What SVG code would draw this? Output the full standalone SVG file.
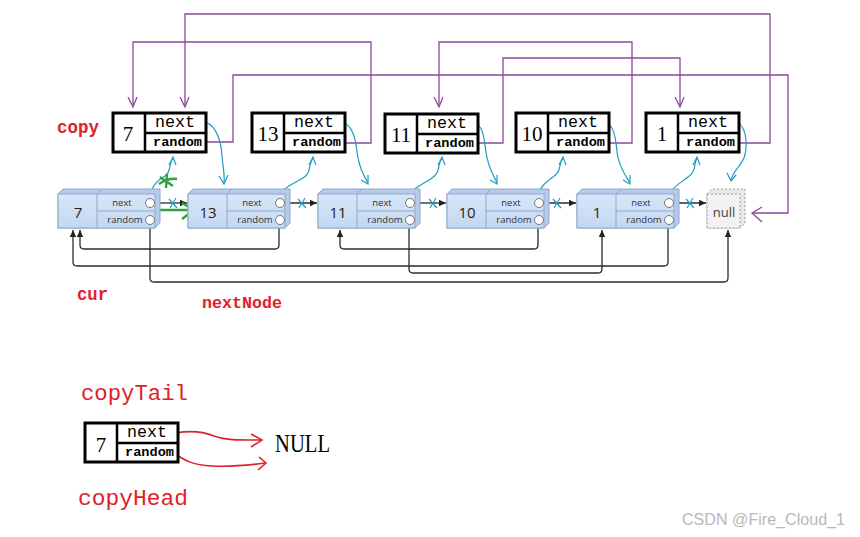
<svg xmlns="http://www.w3.org/2000/svg" xmlns:xlink="http://www.w3.org/1999/xlink" width="860" height="537" viewBox="0 0 860 537">
<style>
.cbox{fill:#fff;stroke:#000;stroke-width:3}
.cdiv{stroke:#000;stroke-width:2.5}
.cval{font-family:"Liberation Serif",serif;font-size:21px;fill:#000;text-anchor:middle}
.cnext{font-family:"Liberation Mono",monospace;font-size:16px;fill:#000}
.crand{font-family:"Liberation Mono",monospace;font-size:12.5px;font-weight:bold;fill:#000}
.purple{fill:none;stroke:#8a4a98;stroke-width:1.3}
.cyan{fill:none;stroke:#1f9cc6;stroke-width:1.2}
.blk{fill:none;stroke:#2b2b2b;stroke-width:1.3}
.red{fill:none;stroke:#e0202a;stroke-width:1.6}
.grn{fill:none;stroke:#2ca33c;stroke-width:2.4}
.lbl{font-family:"Liberation Mono",monospace;font-weight:bold;fill:#e0202a}
.lbl2{font-family:"Liberation Mono",monospace;fill:#e0202a}
.ntxt{font-family:"Open Sans","DejaVu Sans",sans-serif;font-size:9.5px;fill:#333;text-anchor:middle}
.nval{font-family:"Open Sans","DejaVu Sans",sans-serif;font-size:15px;fill:#222;text-anchor:middle}
</style>
<defs>
<linearGradient id="bg" x1="0" y1="0" x2="0" y2="1">
<stop offset="0" stop-color="#d8e6f8"/><stop offset="1" stop-color="#c3d7f1"/>
</linearGradient>
<marker id="ah" markerWidth="8" markerHeight="8" refX="7" refY="4" orient="auto" markerUnits="userSpaceOnUse">
<path d="M0,0.8 L7,4 L0,7.2 Z" fill="#222"/>
</marker>
<g id="body">
<path d="M0,194 L5,189 L102,189 L102,223 L97,228 L0,228 Z" fill="#b6cbea" stroke="#8ea8cc" stroke-width="1"/>
<rect x="0" y="194" width="97" height="34" fill="url(#bg)" stroke="#8ea8cc" stroke-width="1"/>
<path d="M39,194 V228 M39,194 L44,189 M39,211 H97" stroke="#8ea8cc" stroke-width="1" fill="none"/>
<circle cx="92" cy="203" r="4.5" fill="#fff" stroke="#777" stroke-width="1"/>
<circle cx="92" cy="220" r="4.5" fill="#fff" stroke="#777" stroke-width="1"/>
<text class="ntxt" x="64" y="206">next</text>
<text class="ntxt" x="67" y="223">random</text>
</g>
<g id="cbody">
<rect class="cbox" x="0" y="0" width="93" height="39"/>
<path class="cdiv" d="M32,0 V39 M32,20 H93"/>
<text class="cnext" x="42" y="14" textLength="40" lengthAdjust="spacingAndGlyphs">next</text>
<text class="crand" x="40" y="33" textLength="49" lengthAdjust="spacingAndGlyphs">random</text>
</g>
</defs>
<rect width="860" height="537" fill="#fff"/>

<g id="connectors">
<path class="purple" d="M738,143 H770 V14 H185 V106"/>
<path class="purple" d="M180,97 L185,107 L189,97"/>
<path class="purple" d="M345,143 H371 V42 H133 V106"/>
<path class="purple" d="M128,97 L133,107 L137,97"/>
<path class="purple" d="M206,142 H233 V75 H788 V213 H752"/>
<path class="purple" d="M762,207 L752,213 L762,222"/>
<path class="purple" d="M609,143 H632 V42 H439 V106"/>
<path class="purple" d="M434,97 L439,107 L443,97"/>
<path class="purple" d="M478,143 H503 V58 H680 V106"/>
<path class="purple" d="M675,97 L680,107 L684,97"/>

<path class="blk" d="M155,203 H187" marker-end="url(#ah)"/>
<path class="blk" d="M284,203 H317" marker-end="url(#ah)"/>
<path class="blk" d="M414,203 H446" marker-end="url(#ah)"/>
<path class="blk" d="M543,203 H576" marker-end="url(#ah)"/>
<path class="blk" d="M673,203 H706" marker-end="url(#ah)"/>

<path class="blk" d="M279,225 V245 Q279,249 275,249 H84 Q80,249 80,245 V230" marker-end="url(#ah)"/>
<path class="blk" d="M668,225 V262 Q668,266 664,266 H77 Q73,266 73,262 V230" marker-end="url(#ah)"/>
<path class="blk" d="M150,225 V278 Q150,282 154,282 H724 Q728,282 728,278 V230" marker-end="url(#ah)"/>
<path class="blk" d="M409,225 V269 Q409,273 413,273 H598 Q602,273 602,269 V230" marker-end="url(#ah)"/>
<path class="blk" d="M538,225 V245 Q538,249 534,249 H344 Q340,249 340,245 V230" marker-end="url(#ah)"/>

<path class="cyan" d="M169,199 L177,208 M176,198 L170,208"/>
<path class="cyan" d="M298,199 L306,208 M305,198 L299,208"/>
<path class="cyan" d="M429,199 L437,208 M436,198 L430,208"/>
<path class="cyan" d="M553,199 L561,208 M560,198 L554,208"/>
<path class="cyan" d="M686,199 L694,208 M693,198 L687,208"/>

<path class="cyan" d="M201,122 C214,121 221,138 222,156 C223,168 225,175 224,183"/>
<path class="cyan" d="M219,176 L224,184 L228,175"/>
<path class="cyan" d="M340,122 C352,122 356,140 357,152 C359,168 364,176 368,183"/>
<path class="cyan" d="M361,180 L368,184 L368,175"/>
<path class="cyan" d="M473,123 C484,124 484,140 486,152 C488,168 494,176 497,183"/>
<path class="cyan" d="M490,180 L497,184 L497,175"/>
<path class="cyan" d="M604,122 C614,123 616,140 617,152 C619,168 626,176 630,183"/>
<path class="cyan" d="M623,180 L630,184 L630,175"/>
<path class="cyan" d="M734,122 C745,122 748,140 745,155 C742,166 733,170 731,180"/>
<path class="cyan" d="M727,173 L731,181 L736,175"/>

<path class="cyan" d="M150,199 C150,186 158,180 165,176 C172,171 168,165 173,158"/>
<path class="cyan" d="M169,165 L173,157 L176,165"/>
<path class="cyan" d="M279,199 C280,188 294,184 303,178 C312,172 308,165 313,158"/>
<path class="cyan" d="M309,165 L313,157 L316,165"/>
<path class="cyan" d="M409,199 C410,188 424,184 432,178 C441,172 437,165 442,158"/>
<path class="cyan" d="M438,165 L442,157 L445,165"/>
<path class="cyan" d="M538,199 C538,188 546,182 553,177 C562,171 558,165 563,158"/>
<path class="cyan" d="M559,165 L563,157 L566,165"/>
<path class="cyan" d="M668,199 C670,188 682,182 688,177 C697,171 693,165 697,158"/>
<path class="cyan" d="M693,165 L697,157 L700,165"/>

<path class="grn" d="M152,210 H194"/>
<path class="grn" d="M182,203 L194,210 L182,219"/>
<path class="grn" d="M160,177 L173,186 M159,184 C165,180 170,178 177,179 M167,174 L166,188"/>

<path class="red" d="M176,433 C192,430 204,432 214,436 C228,441 244,440 261,440"/>
<path class="red" d="M251,434 L262,440 L251,447"/>
<path class="red" d="M172,452 C184,460 192,465 212,466 C232,467 250,465 265,463"/>
<path class="red" d="M259,457 L266,463 L258,470"/>
</g>

<g id="copy7"><use href="#cbody" x="113" y="113"/><text class="cval" x="128" y="141">7</text></g>
<g id="copy13"><use href="#cbody" x="252" y="113"/><text class="cval" x="268" y="141">13</text></g>
<g id="copy11"><use href="#cbody" x="385" y="114"/><text class="cval" x="401" y="142">11</text></g>
<g id="copy10"><use href="#cbody" x="516" y="113"/><text class="cval" x="532" y="141">10</text></g>
<g id="copy1"><use href="#cbody" x="646" y="113"/><text class="cval" x="662" y="141">1</text></g>

<g id="node7"><use href="#body" x="58"/><text class="nval" x="78" y="218">7</text></g>
<g id="node13"><use href="#body" x="188"/><text class="nval" x="208" y="218">13</text></g>
<g id="node11"><use href="#body" x="318"/><text class="nval" x="338" y="218">11</text></g>
<g id="node10"><use href="#body" x="447"/><text class="nval" x="467" y="218">10</text></g>
<g id="node1"><use href="#body" x="577"/><text class="nval" x="597" y="218">1</text></g>
<g id="nodenull">
<path d="M707,194 L712,189 L745,189 L745,223 L740,228 L707,228 Z" fill="#e8e8e8" stroke="#9a9a9a" stroke-dasharray="2,2"/>
<rect x="707" y="194" width="33" height="34" fill="#f2f2f2" stroke="#9a9a9a" stroke-dasharray="2,2"/>
<text x="724" y="217" font-family="'Open Sans','DejaVu Sans',sans-serif" font-size="13" fill="#444" text-anchor="middle">null</text>
</g>

<g id="copyTailNode"><use href="#cbody" x="85" y="423"/><text class="cval" x="101" y="452">7</text></g>
<text x="275" y="452" font-family="'Liberation Serif',serif" font-size="25" fill="#000" textLength="55" lengthAdjust="spacingAndGlyphs">NULL</text>

<text class="lbl" x="57" y="133" font-size="19" textLength="42" lengthAdjust="spacingAndGlyphs">copy</text>
<text class="lbl" x="77" y="300" font-size="18" textLength="31" lengthAdjust="spacingAndGlyphs">cur</text>
<text class="lbl" x="202" y="308" font-size="17" textLength="80" lengthAdjust="spacingAndGlyphs">nextNode</text>
<text class="lbl2" x="81" y="400" font-size="22" textLength="107" lengthAdjust="spacingAndGlyphs">copyTail</text>
<text class="lbl2" x="78" y="505" font-size="22" textLength="110" lengthAdjust="spacingAndGlyphs">copyHead</text>

<text x="682" y="525" font-family="'Liberation Sans',sans-serif" font-size="16" fill="#b8b8b8" textLength="163" lengthAdjust="spacingAndGlyphs">CSDN @Fire_Cloud_1</text>
</svg>
